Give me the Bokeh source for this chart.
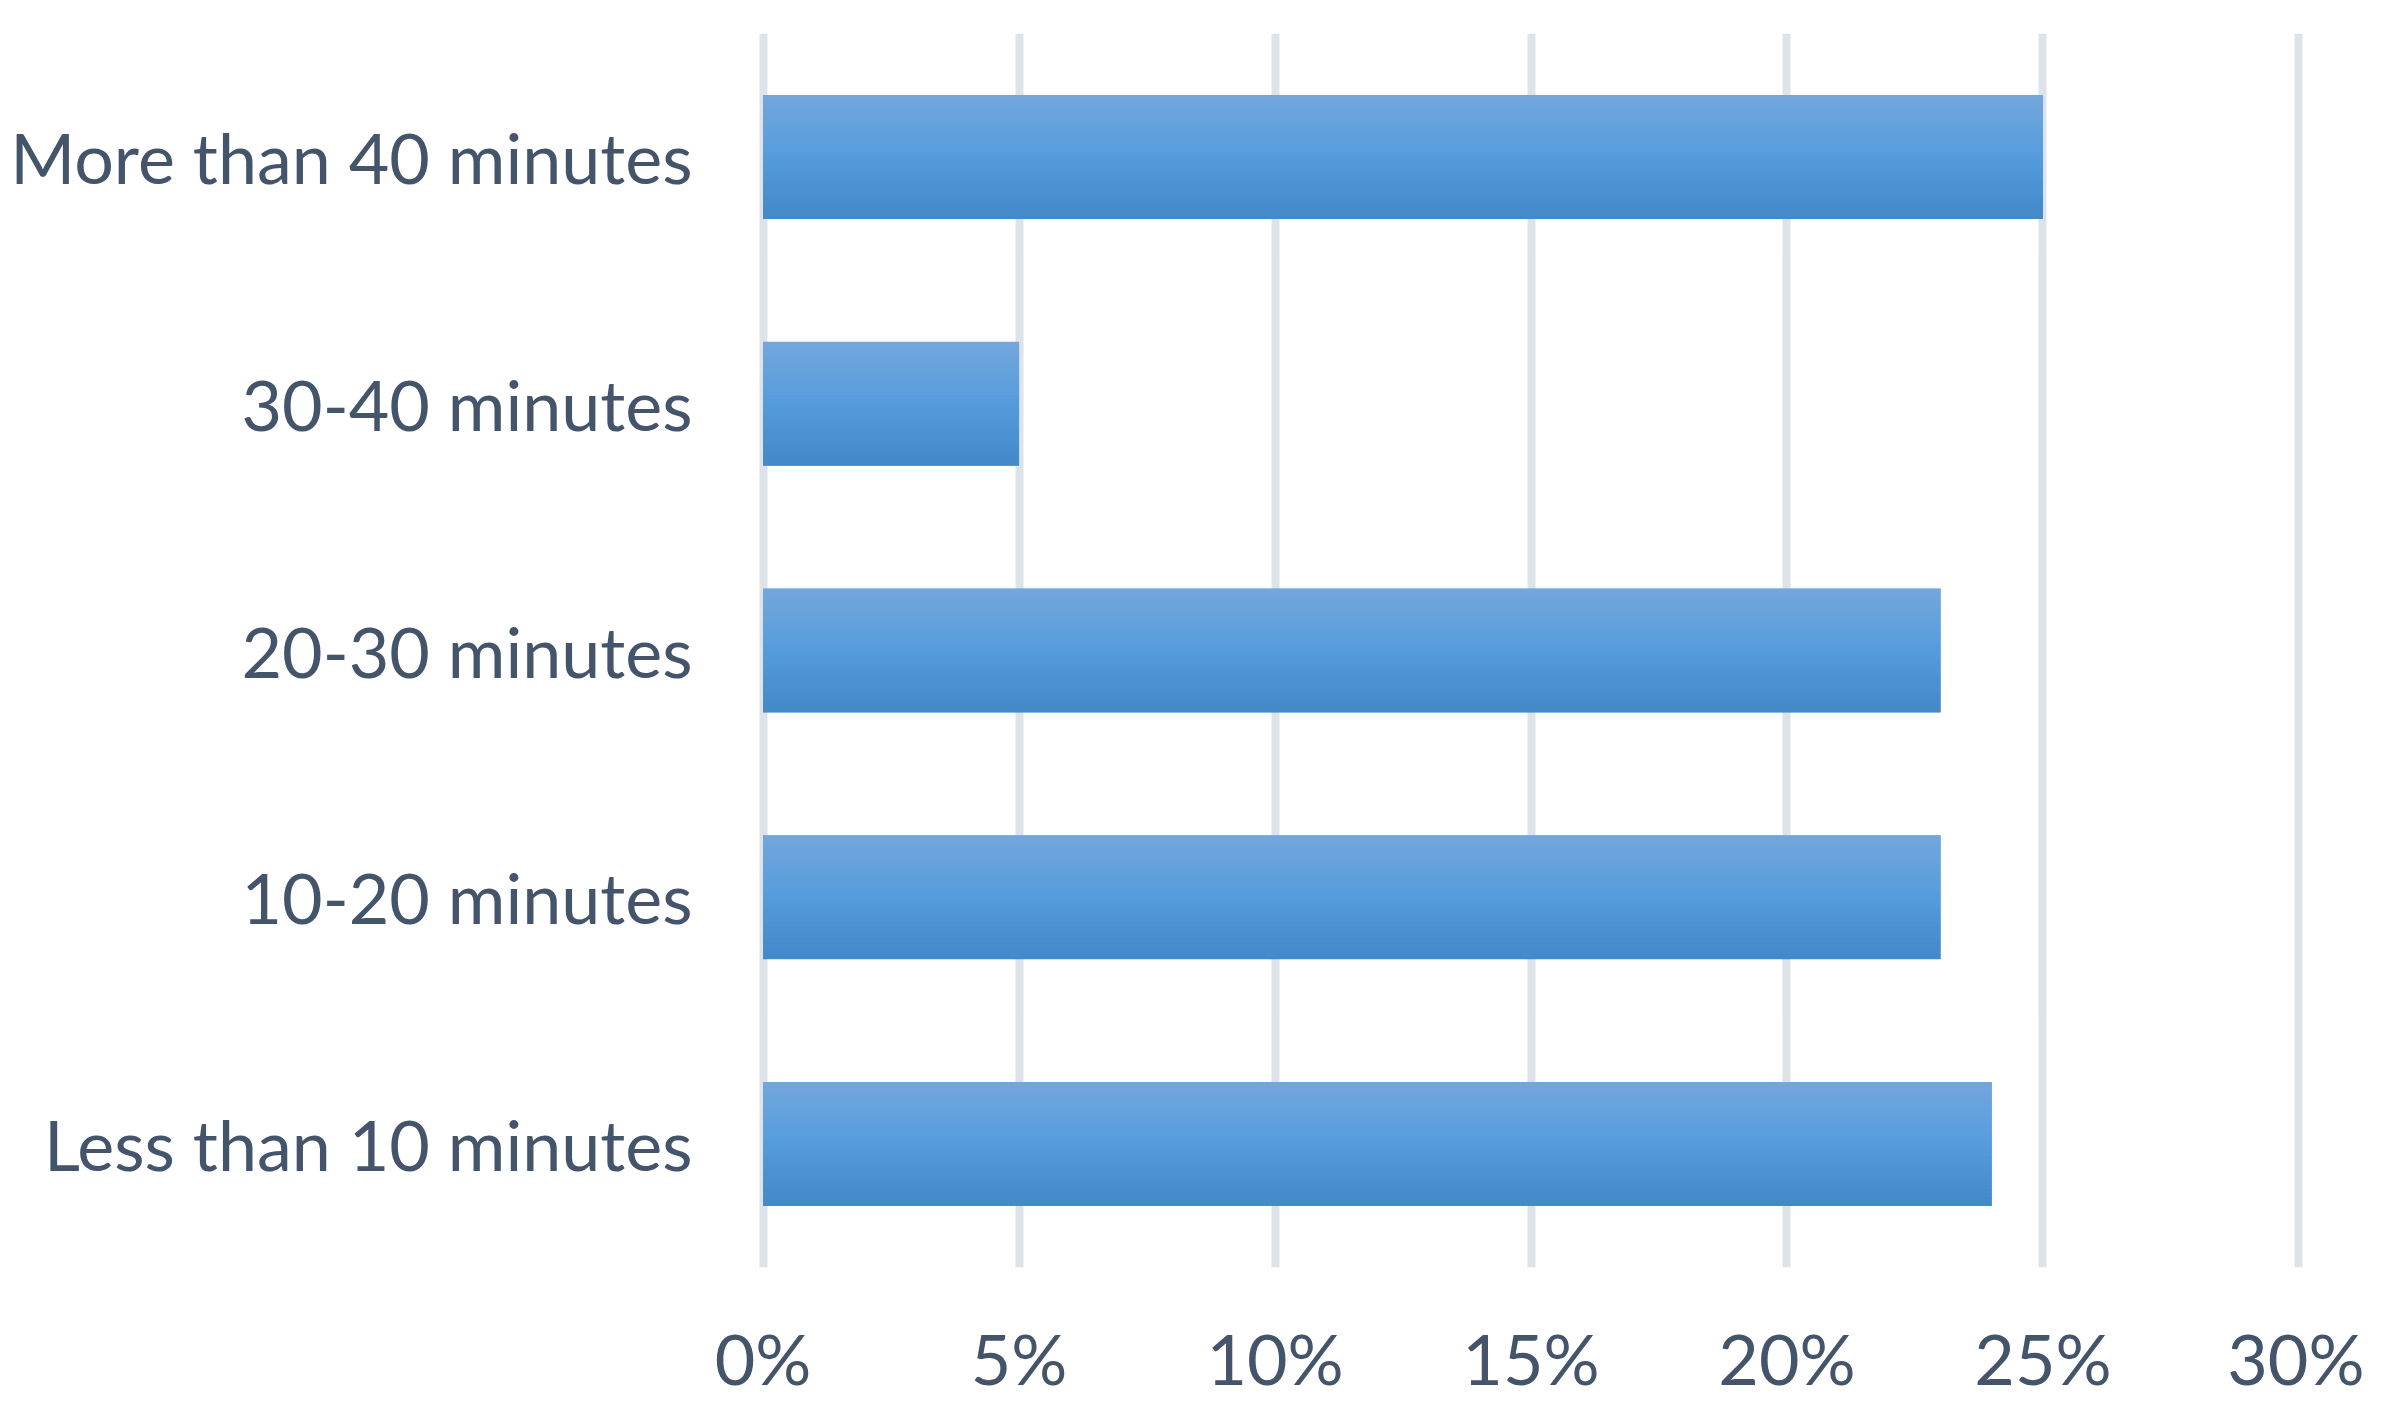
from bokeh.plotting import figure
from bokeh.models import FactorRange, Range1d, FixedTicker, ColumnDataSource
from bokeh.transform import dodge
from bokeh.embed import file_html
from bokeh.resources import INLINE

# ---- data ----
categories = ["Less than 10 minutes", "10-20 minutes", "20-30 minutes",
              "30-40 minutes", "More than 40 minutes"]
values = [24, 23, 23, 5, 25]
tick_values = [0, 5, 10, 15, 20, 25, 30]
tick_labels = ["0%", "5%", "10%", "15%", "20%", "25%", "30%"]

FONT = "Lato"
TXT = "#44546A"

p = figure(frame_width=1587, frame_height=1234, output_backend="svg", toolbar_location=None,
           y_range=FactorRange(factors=categories, range_padding=0),
           x_range=Range1d(-0.5, 30.5),
           min_border_left=737, min_border_right=40, min_border_top=33, min_border_bottom=125)
p.outline_line_color = None
p.background_fill_color = "white"
p.border_fill_color = "white"

src = ColumnDataSource(dict(cat=categories, val=values))

# base bar
BAR_H = 0.5
p.hbar(y="cat", right="val", left=0, height=BAR_H, source=src,
       fill_color="#559BDA", line_color=None)

# vertical gradient strips
def lerp(c1, c2, t):
    a = [int(c1[i:i+2], 16) for i in (1, 3, 5)]
    b = [int(c2[i:i+2], 16) for i in (1, 3, 5)]
    return "#%02x%02x%02x" % tuple(round(a[k] + (b[k] - a[k]) * t) for k in range(3))

TOP, MID, BOT = "#73A7DC", "#559CDD", "#4388C7"
N = 30
sh = BAR_H / N
for i in range(N):
    t = (i + 0.5) / N
    col = lerp(TOP, MID, t / 0.5) if t < 0.5 else lerp(MID, BOT, (t - 0.5) / 0.5)
    off = BAR_H / 2 - (i + 0.5) * sh
    p.hbar(y=dodge("cat", off, range=p.y_range), right="val", left=0,
           height=sh * 1.15, source=src, fill_color=col, line_color=None)

# grid
p.xgrid.ticker = FixedTicker(ticks=tick_values)
p.xgrid.grid_line_color = "#DEE2E9"
p.xgrid.grid_line_width = 8
p.ygrid.grid_line_color = None
p.xgrid.level = "underlay"

# axes
p.xaxis.ticker = FixedTicker(ticks=tick_values)
p.xaxis.major_label_overrides = {v: l for v, l in zip(tick_values, tick_labels)}
for ax in (p.xaxis, p.yaxis):
    ax.axis_line_color = None
    ax.major_tick_line_color = None
    ax.minor_tick_line_color = None
    ax.major_label_text_font = FONT
    ax.major_label_text_color = TXT
    ax.major_label_text_font_size = "70px"
p.xaxis.major_label_standoff = 42
p.yaxis.major_label_standoff = 39

open("out.html", "w").write(file_html(p, INLINE))
